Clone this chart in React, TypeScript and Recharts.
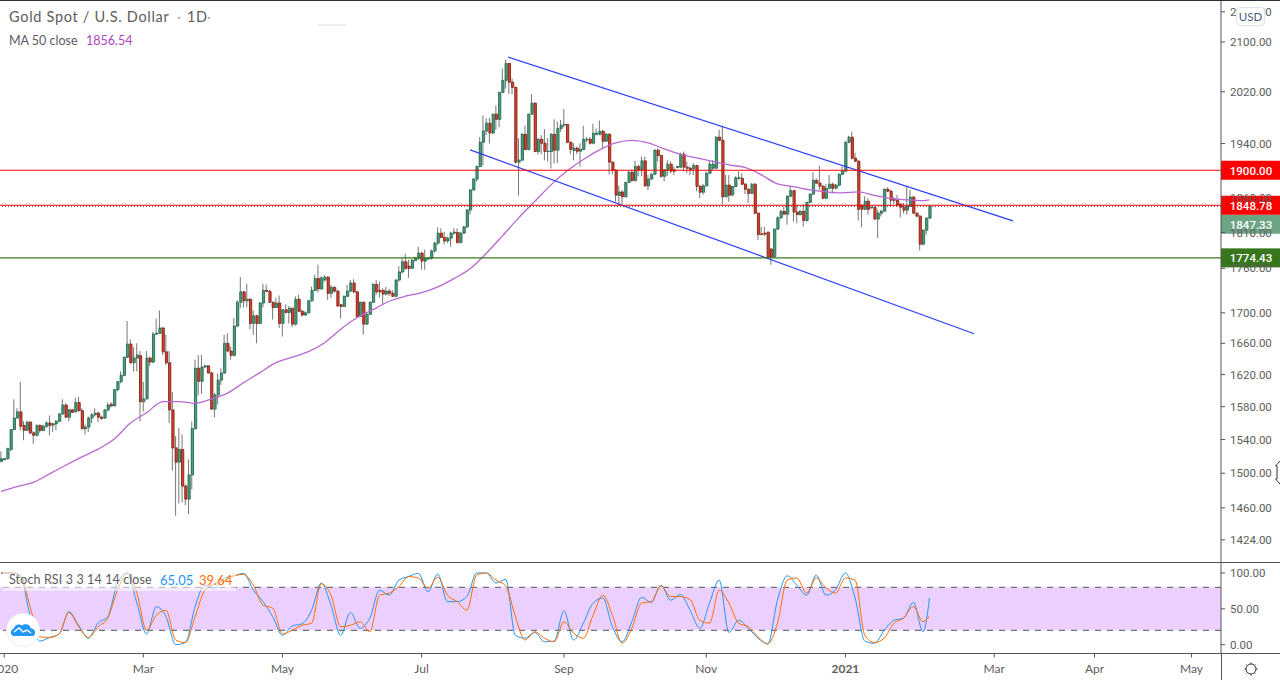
import { Bar, Cell, ComposedChart, Line, ReferenceArea, ReferenceLine, XAxis, YAxis } from 'recharts'

const FONT = 'Lato, Roboto, sans-serif'
const NUM_FONT = 'Roboto, sans-serif'

const opens = [
  1514,1516,1517,1528,1552,1566,1573.5,1557,1551,1561,
  1548,1545,1557,1551,1556,1560,1557.5,1559,1562,1571,
  1582,1567,1576,1574,1585,1575,1553,1555,1566,1570,
  1572,1567,1566,1576,1583,1581,1601,1611,1619,1642,
  1659,1635,1641,1644,1586,1589.5,1641,1636,1672,1673,
  1680,1649,1635,1576,1530,1513,1528,1485,1470,1498,
  1553,1628,1611.5,1629.6,1631,1622,1577,1594.5,1613,1622,
  1660,1650,1644.5,1682.5,1714,1728,1716,1718,1686,1696,
  1686,1713,1730,1728.6,1714,1707,1713,1686,1704,1700.5,
  1706,1685,1718,1702,1697,1700,1716,1730,1746,1732,
  1744,1748,1726,1734,1729,1710.7,1708.5,1722,1729,1740,
  1728,1695,1714,1685,1698,1714,1738,1730,1730,1725,
  1729,1726,1722,1744,1755,1769,1763,1760,1771,1774,
  1781,1770,1773,1774,1784,1795,1809,1803,1798,1802,
  1809,1810,1796,1809,1818,1842,1871,1887,1905.5,1942,
  1959,1971,1956,1985,1977,2019,2038,2065,2035,2027,
  1912,1915,1954,1931,1985,2002,1928,1946.5,1940.5,1927.9,
  1928,1954,1930,1963,1968,1969,1942,1929.4,1933,1928.4,
  1931,1945.5,1946.5,1940.5,1954,1954,1958.7,1943.5,1954,1912,
  1900,1863,1868,1861,1882,1897,1885,1905.5,1900.6,1914,
  1877,1887,1894,1930,1922,1891,1900.6,1909,1900.6,1904,
  1904.5,1924,1904.5,1903,1902.5,1907,1876.5,1867.7,1877,1895.6,
  1903,1903,1949.6,1945,1861,1878,1864,1876,1888,1888,
  1879.4,1872,1866,1879.4,1837.4,1808,1809,1810.4,1786.6,1776,
  1814.6,1830.8,1840,1836,1862,1870,1839,1835.5,1840,1827,
  1853,1865,1885,1881,1876.5,1859,1873.5,1879.4,1873.5,1878,
  1894,1898.6,1942,1949.6,1918,1913.5,1849,1843,1854.6,1845,
  1845.5,1829,1837.4,1840.3,1872,1869.2,1857.6,1856,1850.4,1846,
  1841.7,1847.5,1860.5,1837.4,1833.2,1793.5,1813.2,1830.3,
]
const highs = [
  1526,1518,1530,1553,1589,1578,1611,1562,1562,1562,
  1550,1558,1558,1558,1562,1569,1560,1564,1572,1589,
  1584,1577,1577,1591,1592,1578,1558,1568,1572,1578,
  1574,1569,1577,1585,1585.5,1602,1612,1624,1643,1689,
  1665,1655,1660,1650,1611,1650,1643,1675,1692,1703,
  1681,1671,1650,1598,1544,1554,1546,1487,1516,1562,
  1639,1644.5,1645,1632.5,1632,1624,1597,1621,1628,1671,
  1673,1656,1693,1717,1748,1729,1739,1720,1703,1697,
  1714,1739,1737.5,1731,1715,1720,1723,1705,1711,1709,
  1707,1722,1724,1704,1702,1717,1735,1751,1765,1749,
  1751,1749,1737.5,1736,1730,1712,1723,1737.5,1744,1745,
  1729,1715,1715,1700,1715,1740,1744,1742,1733,1734.4,
  1732,1730,1745,1763,1774,1780,1772,1773,1776,1790,
  1783,1786,1776,1786,1797,1817.5,1816,1811,1804.4,1811,
  1816,1816,1811,1819,1843,1872,1888,1907,1950,1983,
  1979,1979,1986,1999,2020,2057,2071,2066,2041,2028,
  1948,1956,1967,1986,2016,2003.5,1948,1953,1962,1948,
  1956,1977,1973.5,1976,1993,1970,1943,1940.5,1935.5,1940.5,
  1967,1950,1950,1970,1963,1975,1961,1956,1956,1913,
  1902,1877,1871,1883,1899,1901,1914,1908,1920,1920,
  1893,1896.5,1931,1933,1923,1901.6,1915,1913,1905.5,1906.5,
  1926,1928,1913,1905.5,1910.5,1908,1878,1880,1897,1915,
  1915,1951,1961,1967,1893,1893,1877,1891,1898,1895.6,
  1881,1873.5,1881,1881,1838.4,1818,1818,1811,1788,1816,
  1833,1842,1847,1863,1877,1871,1850,1842,1850,1854,
  1866,1897,1888,1906.5,1878,1880,1893,1882,1880,1895.6,
  1905.5,1943,1952,1958,1926,1915,1850,1862,1859,1847,
  1847,1842,1842,1873.5,1875,1871,1860.5,1864,1852,1852,
  1877,1871,1862.4,1838.4,1834.6,1814.6,1832,1849,
]
const lows = [
  1513,1515,1516,1526,1551,1565,1551,1539,1550,1546,
  1535,1544,1548,1550,1554,1545,1549,1551,1561,1570,
  1566,1562,1572,1572,1574,1552,1546,1549,1560,1568,
  1561,1564,1565,1574,1579,1580,1599,1609,1618,1641,
  1634,1624,1624,1562,1574,1589,1631,1634,1671,1672,
  1645,1632,1560,1503,1451,1465,1466,1463,1453,1481,
  1552,1594,1596,1628,1621,1576,1567,1582.5,1607,1621,
  1649,1639,1643,1681,1706,1707,1707,1678.5,1671,1660,
  1685,1707,1727.7,1713,1691,1706,1680,1669,1699,1686,
  1681,1683,1701,1695,1696,1699,1715,1729,1727,1731,
  1742,1717,1720,1727,1708,1692.6,1707.6,1721,1728,1726,
  1694,1694,1671,1684,1697,1713,1724,1720,1711,1723,
  1722,1721,1721,1742,1753,1758,1747,1759,1769.5,1771,
  1758,1758,1771,1772,1782,1792.6,1802,1793,1795,1790,
  1806.6,1794,1794,1808,1816,1835.5,1870,1883,1904.5,1907,
  1953,1940,1954,1961,1965,2018,2025,2016,2016,1910,
  1863,1914,1930,1930,1984,1927,1923,1924,1915,1913,
  1902.5,1910,1910.5,1958,1965,1940.5,1924,1915,1924,1905.5,
  1930,1942,1938.5,1939,1952.7,1952.7,1932,1942.5,1894,1894,
  1854,1849,1850,1860.5,1881,1883,1883,1891,1891,1876,
  1871,1886,1893,1913,1889,1883.4,1892,1895.6,1893,1903,
  1903,1898,1895.6,1893,1893,1869,1859,1864,1876,1894.6,
  1900.6,1901.6,1943,1850,1860.5,1854,1861.4,1875,1885.8,1878.4,
  1865,1852,1865,1836,1799.6,1806,1805,1774,1765,1775,
  1813.7,1829,1835,1821,1860.5,1825.5,1823,1833.6,1818,1825.5,
  1852,1863.4,1880,1871,1857.6,1857.6,1872,1866,1872,1876,
  1892.7,1897,1940.6,1916,1912,1827,1817.5,1842,1835,1844,
  1828,1802,1832.7,1839,1868,1847,1850,1847,1831.7,1837.4,
  1835,1846,1836.5,1831.7,1784.6,1792,1806.6,1829,
]
const closes = [
  1517,1517,1529,1552,1566,1573.5,1556,1551,1561,1548,
  1545,1557,1551,1556,1560,1557,1559,1562,1571,1582,
  1567,1576,1573,1585,1575,1553,1555,1566,1570,1572,
  1567,1565.5,1576,1582,1581,1601,1611,1619,1642,1659,
  1635,1641,1645,1586,1589.5,1641,1636,1672,1673,1680,
  1649,1635,1576,1530,1513,1528,1485,1470,1498,1553,
  1628,1611.5,1629.6,1631,1622,1577,1594.5,1613,1622,1660,
  1650,1644.5,1682.5,1714,1728,1716,1718,1686,1696,1686,
  1713,1730,1728.6,1714,1707,1713,1686,1704,1700.5,1706,
  1685,1718,1702,1697,1700,1716,1730,1746,1732,1747,
  1748,1726,1734,1729,1709,1708.5,1722,1729,1740,1728,
  1695,1714,1685,1698,1714,1738,1728,1728,1725,1729,
  1726,1722,1744,1755,1769,1760,1760,1771,1774,1781,
  1770,1774,1774,1784,1795,1809,1803,1798,1802,1809,
  1810.4,1796,1809,1818,1842,1871,1887,1905.5,1942,1959,
  1971,1956,1985,1977,2019,2038,2065,2035,2027,1912,
  1915,1954,1931,1985,2002,1928,1946.5,1940.5,1928,1928.4,
  1954,1930,1963,1968,1969.4,1942,1931,1933,1928.4,1931.4,
  1946.5,1946.5,1940.5,1955.7,1955.7,1958.7,1943.5,1954,1912,1900,
  1863.4,1868,1861,1882,1897,1885,1905.5,1900.6,1914,1877,
  1887,1894,1930,1922,1891,1900.6,1909,1898.6,1898.6,1905.5,
  1924,1904.5,1903,1901,1907,1876.5,1867.7,1877,1895.6,1909,
  1909,1949.6,1945,1861,1878,1863.4,1876,1889,1889,1879.4,
  1872,1866,1879.4,1837.4,1807,1807,1807.6,1775,1776,1814.6,
  1830.8,1840,1836,1862,1870,1839,1835.5,1840,1827,1853,
  1865,1885,1881,1876.5,1859,1873.5,1879.4,1873.5,1878,1894,
  1898.6,1942,1949.6,1918,1913.5,1843,1843,1854.6,1843,1846,
  1829,1837.4,1840.3,1872,1869.2,1856,1856,1849,1846,1841.7,
  1847.5,1860.5,1837.4,1833.2,1793.5,1813.2,1830.3,1847.33,
]

// MA 50, read every 5th bar, the last entry is the final bar
const maValues = [
  1479,1484.5,1489.3,1499.2,1509.3,1519.2,1528.4,1540.5,1559.8,1572.4,
  1586.2,1586.2,1584.1,1589.4,1596.7,1609.8,1622.4,1635.1,1642.1,1649.2,
  1660.8,1678.4,1693.5,1704.2,1715.4,1722.1,1726.8,1734.8,1746,1759.4,
  1780.8,1805.2,1830.7,1854.4,1878.4,1899.1,1916.1,1930.4,1941,1944.8,
  1941,1931.9,1923.6,1918.4,1913.2,1907.9,1904.2,1893.2,1879.9,1875.9,
  1871.1,1868.2,1866.8,1868.2,1863.1,1858.8,1856.6,1855.6,1856.54,
]

// Stoch RSI, read every 3rd bar, the last entry is the final bar
const stochK = [
  100,100,95,41,5,10,15,46,27,9,30,39,86,100,58,15,53,39,0,3,
  53,83,79,93,96,99.5,76,60,39,13,26,29,48,86,55,13,45,23,37,76,
  69,90,95,99.5,74,98.5,60,60,67,100,100,86,91,13,9,17,4,5,47,6.5,
  30,58,65,25,4,32,66,59,83,62,70,48,23,58,90,17,34,23,9,1,
  62,96,83,69,97,69,77,100,65,5,2,20,34,37,59,18,65.05,
]
const stochD = [
  100,100,97,53,11,10,15,45,25,10,25,37,76,99.5,72,20,41,48,6.5,3,
  39,76,85,89,96,98,83,55,51,15,20,27,30,85,69,25,27,32,18,69,
  72,81,95,93,79,94,69,60,48,97,100,90,82,39,6.5,18,9,4,32,16,
  9,41,69,41,2,23,58,60,82,67,67,63,34,30,76,58,30,25,11,1,
  30,90,93,72,93,79,72,93,90,13,3,9,30,37,53,32,39.64,
]

const yTicks = [2150, 2100, 2020, 1940, 1860, 1810, 1760, 1700, 1660, 1620, 1580, 1540, 1500, 1460, 1424]
const stochTicks = [0, 50, 100]
const monthIndex = [1, 44, 87, 130, 174, 218, 261, 307, 338, 368]
const monthLabels = ['2020', 'Mar', 'May', 'Jul', 'Sep', 'Nov', '2021', 'Mar', 'Apr', 'May']

const upperChannel = [{ x: 156.7, y: 2075.5 }, { x: 312.8, y: 1826.4 }]
const lowerChannel = [{ x: 145, y: 1930.4 }, { x: 300.8, y: 1672.5 }]

const X_DOMAIN: [number, number] = [-0.31, 377.1]
const Y_DOMAIN: [number, number] = [1399.6, 2169.9]
const STOCH_DOMAIN: [number, number] = [-12.3, 115.3]

const last = opens.length - 1
const bars = opens.map((o, i) => ({
  i,
  wick: [lows[i], highs[i]],
  body: [Math.min(o, closes[i]), Math.max(o, closes[i])],
  up: closes[i] >= o,
  ma: i === last ? maValues[maValues.length - 1] : i % 5 === 0 ? maValues[i / 5] : null,
}))
const stochRows = stochK.map((k, n) => ({
  i: n === stochK.length - 1 ? last : n * 3,
  k,
  d: stochD[n],
}))

const axisText = { fontSize: 11.5, fill: '#5d5d5d', fontFamily: NUM_FONT }

function priceTag(text: string, fill: string, shift = 0) {
  return ({ viewBox }: any) => {
    const cy = viewBox.y + shift
    return (
      <g>
        <rect x={1221} y={cy - 9.5} width={59} height={19} fill={fill} />
        <text x={1251} y={cy + 4.5} textAnchor="middle" fontSize={11.5} fontWeight={500} fill="#fff" fontFamily={NUM_FONT}>
          {text}
        </text>
      </g>
    )
  }
}

function MonthTick({ x, y, payload }: any) {
  const n = monthIndex.indexOf(payload.value)
  const label = monthLabels[n]
  return (
    <text x={x} y={y + 13} textAnchor="middle" fontSize={12} fill="#5d5d5d" fontFamily={FONT} fontWeight={label === '2021' ? 700 : 400}>
      {label}
    </text>
  )
}

function PriceChart() {
  return (
    <ComposedChart width={1280} height={562} data={bars} margin={{ top: 0, right: 0, bottom: 0, left: 0 }}>
      <XAxis xAxisId="wick" dataKey="i" type="number" domain={X_DOMAIN} allowDataOverflow hide />
      <XAxis xAxisId="body" dataKey="i" type="number" domain={X_DOMAIN} allowDataOverflow hide />
      <YAxis
        orientation="right"
        width={59}
        scale="log"
        domain={Y_DOMAIN}
        allowDataOverflow
        ticks={yTicks}
        interval={0}
        tick={axisText}
        tickSize={4}
        tickMargin={5}
        tickFormatter={(v: number) => v.toFixed(2)}
        stroke="#555"
      />
      <Bar xAxisId="wick" dataKey="wick" barSize={1} fill="#767676" isAnimationActive={false} />
      <Bar xAxisId="body" dataKey="body" barSize={2.2} isAnimationActive={false}>
        {bars.map(b => (
          <Cell key={b.i} fill={b.up ? '#4f9f80' : '#e0402f'} stroke={b.up ? '#266b50' : '#7f2619'} strokeWidth={0.9} />
        ))}
      </Bar>
      <Line xAxisId="wick" dataKey="ma" type="monotone" connectNulls dot={false} stroke="#b868d0" strokeWidth={1.3} isAnimationActive={false} />
      <ReferenceLine xAxisId="wick" segment={upperChannel} stroke="#2a3fff" strokeWidth={1.2} />
      <ReferenceLine xAxisId="wick" segment={lowerChannel} stroke="#2a3fff" strokeWidth={1.2} />
      <ReferenceLine xAxisId="wick" y={1900} stroke="#ff0000" strokeWidth={1.2} label={priceTag('1900.00', '#ff0000')} />
      <ReferenceLine xAxisId="wick" y={1774.43} stroke="#38761d" strokeWidth={1.4} label={priceTag('1774.43', '#38761d')} />
      <ReferenceLine xAxisId="wick" y={1847.33} stroke="#333" strokeDasharray="1 2" label={priceTag('1847.33', '#6ba583', 18)} />
      <ReferenceLine xAxisId="wick" y={1848.78} stroke="#ff0000" strokeWidth={1.2} label={priceTag('1848.78', '#ff0000')} />
    </ComposedChart>
  )
}

function StochChart() {
  return (
    <ComposedChart width={1280} height={118} data={stochRows} margin={{ top: 0, right: 0, bottom: 0, left: 0 }}>
      <XAxis
        dataKey="i"
        type="number"
        domain={X_DOMAIN}
        allowDataOverflow
        ticks={monthIndex}
        interval={0}
        tick={<MonthTick />}
        tickSize={4}
        stroke="#555"
        height={26.5}
      />
      <YAxis
        orientation="right"
        width={59}
        domain={STOCH_DOMAIN}
        allowDataOverflow
        ticks={stochTicks}
        interval={0}
        tick={axisText}
        tickSize={4}
        tickMargin={5}
        tickFormatter={(v: number) => v.toFixed(2)}
        stroke="#555"
      />
      <ReferenceArea y1={20} y2={80} fill="#9915ff" fillOpacity={0.2} stroke="none" />
      <ReferenceLine y={80} stroke="#555" strokeDasharray="6 6" />
      <ReferenceLine y={20} stroke="#555" strokeDasharray="6 6" />
      <Line dataKey="k" type="monotone" dot={false} stroke="#2196f3" strokeWidth={1} isAnimationActive={false} />
      <Line dataKey="d" type="monotone" dot={false} stroke="#ff6d00" strokeWidth={1} isAnimationActive={false} />
    </ComposedChart>
  )
}

const abs = (left: number, top: number, extra: any = {}) => ({ position: 'absolute' as const, left, top, ...extra })

export default function App() {
  return (
    <div style={abs(0, 0, { width: 1280, height: 680, background: '#fff', overflow: 'hidden', fontFamily: FONT, color: '#5d5d5d' })}>
      <div style={abs(0, 0)}><PriceChart /></div>
      <div style={abs(0, 562)}><StochChart /></div>

      <div style={abs(0, 0, { width: 1280, height: 1, background: '#2a2e39' })} />
      <div style={abs(0, 562, { width: 1280, height: 1, background: '#555' })} />
      <div style={abs(0, 653, { width: 1280, height: 1, background: '#555' })} />
      <div style={abs(1221, 653, { width: 1, height: 27, background: '#555' })} />

      <div style={abs(9, 8, { fontSize: 14.5, lineHeight: '18px', whiteSpace: 'pre', letterSpacing: 0.7 })}>Gold Spot / U.S. Dollar</div>
      <div style={abs(177, 8, { fontSize: 14.5, lineHeight: '18px', color: '#aaa' })}>·</div>
      <div style={abs(187, 8, { fontSize: 14.5, lineHeight: '18px', letterSpacing: 0.7 })}>1D</div>
      <div style={abs(207, 8, { fontSize: 14.5, lineHeight: '18px', color: '#aaa' })}>·</div>
      <div style={abs(9, 33, { fontSize: 12.5, lineHeight: '16px', whiteSpace: 'pre' })}>MA 50 close</div>
      <div style={abs(86, 33, { fontSize: 12.5, lineHeight: '16px', color: '#ab47bc' })}>1856.54</div>

      <div style={abs(3, 571, { width: 233, height: 20, background: 'rgba(255,255,255,0.55)' })} />
      <div style={abs(9, 572, { fontSize: 12.5, lineHeight: '16px', whiteSpace: 'pre', letterSpacing: 0.12 })}>Stoch RSI 3 3 14 14 close</div>
      <div style={abs(160, 572, { fontSize: 13, lineHeight: '16px', color: '#2196f3' })}>65.05</div>
      <div style={abs(199, 572, { fontSize: 13, lineHeight: '16px', color: '#ff6d00' })}>39.64</div>

      <div style={abs(1236, 7, { width: 29, height: 19, boxSizing: 'border-box', background: '#fff', border: '1px solid #e0e3eb', borderRadius: 4, fontSize: 11.5, lineHeight: '18px', textAlign: 'center', color: '#4a5a78' })}>USD</div>

      <svg width={1280} height={680} style={abs(0, 0, { pointerEvents: 'none' })}>
        <circle cx={23} cy={630} r={16.5} fill="#fff" stroke="#eeeeee" />
        <path d="M13 636 a4 4 0 0 1 1-7.5 a5 5 0 0 1 8-3 a5.5 5.5 0 0 1 9 3 a4 4 0 0 1 2 7.5 z" fill="#2196f3" />
        <path d="M14 632 L19 628 L23 632 L27 630 L31 633" fill="none" stroke="#fff" strokeWidth={1.4} />
        <circle cx={1251} cy={669} r={5} fill="none" stroke="#333" strokeWidth={1} />
        <path d="M1251 662.5V664M1251 674V675.5M1244.5 669H1246M1256 669H1257.5M1246.5 664.5L1247.5 665.5M1254.5 672.5L1255.5 673.5M1246.5 673.5L1247.5 672.5M1254.5 665.5L1255.5 664.5" stroke="#333" strokeWidth={1} />
        <path d="M1280 461 L1275.5 466 L1277 466 V479 L1275.5 479 L1280 484" fill="none" stroke="#333" strokeWidth={1} />
        <line x1={317} y1={25} x2={347} y2={25} stroke="#e6dbe8" strokeWidth={1} />
      </svg>
    </div>
  )
}
